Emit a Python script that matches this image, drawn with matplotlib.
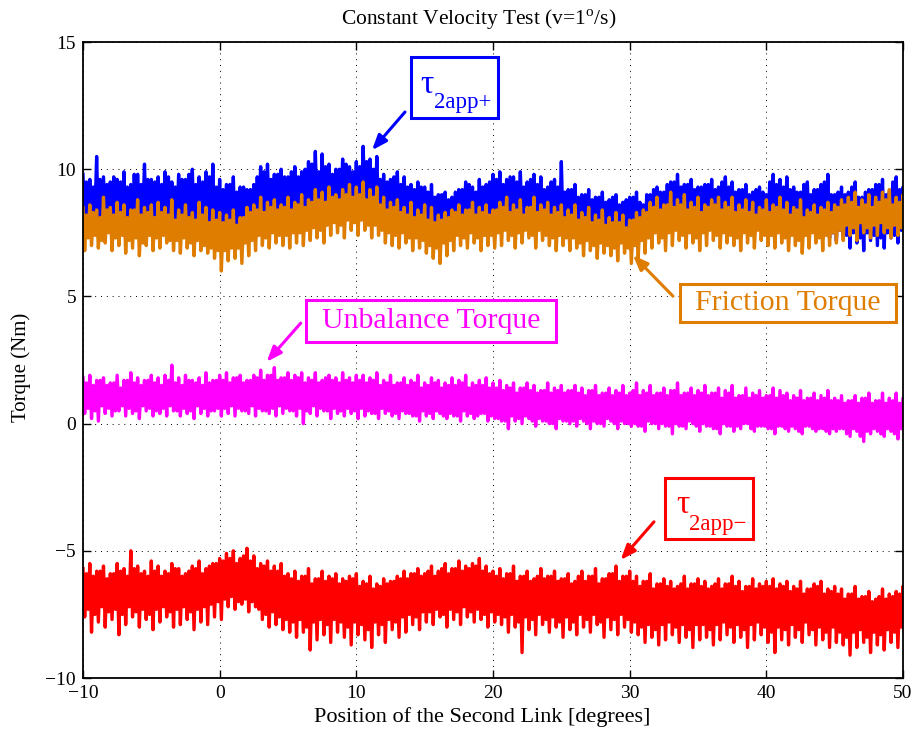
import numpy as np
import matplotlib
matplotlib.use("Agg")
import matplotlib.pyplot as plt
from matplotlib.patches import Rectangle

plt.rcParams['font.family'] = ['Liberation Serif', 'DejaVu Serif']
plt.rcParams['mathtext.fontset'] = 'custom'
plt.rcParams['mathtext.rm'] = 'Liberation Serif'

# sample positions (degrees): main samples every 0.5 deg, mid samples in between
position = np.arange(241) * 0.25 - 10

tau_plus_hi = [9.8, 9.6, 10.5, 9.7, 9.5, 9.6, 9.9, 9.4, 9.8, 10.2, 9.6,
               9.7, 9.9, 9.5, 9.8, 9.6, 10.0, 9.7, 9.9, 10.2, 9.6,
               9.4, 9.7, 9.3, 9.2, 9.4, 10.1, 10.2, 9.8, 10.0, 9.7,
               10.1, 9.9, 10.3, 10.7, 10.6, 10.2, 10.0, 10.4, 10.1, 10.3,
               10.9, 10.4, 10.5, 9.8, 9.6, 9.9, 9.7, 9.4, 9.5, 9.3,
               9.4, 9.0, 9.1, 8.9, 9.2, 9.5, 9.3, 9.6, 9.4, 9.8,
               9.9, 9.6, 9.7, 9.9, 9.5, 9.8, 9.7, 9.3, 9.6, 10.3,
               9.2, 9.4, 9.0, 9.2, 8.9, 9.1, 8.8, 9.0, 8.7, 8.9,
               9.1, 8.6, 9.0, 9.3, 9.1, 9.5, 9.8, 9.4, 9.6, 9.3,
               9.4, 9.6, 9.3, 9.7, 9.5, 9.2, 9.4, 9.1, 9.3, 9.0,
               9.8, 9.6, 9.7, 9.3, 9.1, 9.5, 9.2, 9.4, 9.8, 9.0,
               9.3, 9.1, 9.5, 8.9, 9.2, 9.4, 9.6, 9.1, 9.7, 9.3]
tau_plus_hi_mid = [9.5, 9.3, 9.6, 9.4, 9.7, 9.5, 9.3, 9.8, 9.4, 9.6,
                   9.5, 9.4, 9.7, 9.3, 9.6, 9.8, 9.4, 9.5, 9.7, 9.3,
                   9.2, 9.4, 9.1, 9.3, 9.2, 9.7, 9.9, 9.6, 9.8, 9.7,
                   9.9, 9.7, 10.0, 10.2, 9.9, 10.1, 9.8, 10.0, 10.2, 9.9,
                   10.1, 10.3, 10.0, 9.6, 9.5, 9.7, 9.4, 9.3, 9.2, 9.3,
                   9.1, 8.9, 9.0, 8.8, 9.1, 9.2, 9.4, 9.1, 9.3, 9.5,
                   9.6, 9.4, 9.7, 9.5, 9.3, 9.6, 9.4, 9.2, 9.5, 9.3,
                   9.1, 9.2, 8.9, 9.0, 8.8, 8.9, 8.7, 8.9, 8.6, 8.8,
                   8.9, 8.7, 9.0, 9.2, 9.1, 9.4, 9.5, 9.3, 9.4, 9.2,
                   9.3, 9.4, 9.2, 9.5, 9.3, 9.1, 9.2, 9.0, 9.2, 9.1,
                   9.5, 9.4, 9.3, 9.2, 9.1, 9.4, 9.0, 9.2, 9.5, 9.0,
                   9.1, 9.0, 9.3, 8.9, 9.1, 9.2, 9.4, 9.0, 9.5, 9.2]
tau_plus_lo = [7.8, 7.9, 7.6, 8.0, 7.7, 7.9, 7.8, 7.6, 8.0, 7.7, 7.9,
               7.8, 7.6, 7.9, 7.7, 7.8, 7.5, 7.9, 7.7, 7.6, 7.5,
               7.4, 7.3, 7.5, 7.6, 7.8, 7.7, 7.9, 7.8, 8.0, 7.9,
               8.1, 8.0, 8.2, 8.3, 8.1, 8.4, 8.2, 8.3, 8.5, 8.2,
               8.4, 8.3, 8.1, 8.0, 7.9, 7.8, 7.9, 7.7, 7.6, 7.5,
               7.4, 7.3, 7.5, 7.6, 7.7, 7.6, 7.8, 7.7, 7.9, 7.8,
               7.9, 8.0, 7.8, 7.9, 7.7, 7.8, 7.6, 7.7, 7.5, 7.6,
               7.5, 7.4, 7.6, 7.3, 7.5, 7.2, 7.4, 7.3, 7.1, 6.8,
               6.9, 7.3, 7.5, 7.6, 7.8, 7.7, 7.9, 7.8, 8.0, 7.9,
               7.8, 7.9, 7.7, 8.0, 7.8, 7.9, 7.7, 7.8, 7.6, 7.8,
               7.7, 7.8, 7.6, 7.7, 7.5, 7.6, 7.4, 7.5, 7.3, 7.2,
               7.4, 6.9, 7.1, 6.8, 7.2, 7.0, 6.9, 7.3, 7.1, 7.4]
tau_plus_lo_mid = [8.1, 8.2, 8.0, 8.3, 8.1, 8.2, 8.0, 8.3, 8.1, 8.2,
                   8.0, 8.2, 8.1, 8.0, 7.9, 8.1, 8.0, 7.9, 7.8, 7.7,
                   7.7, 7.8, 7.9, 8.0, 8.1, 8.2, 8.1, 8.3, 8.2, 8.4,
                   8.3, 8.5, 8.4, 8.6, 8.5, 8.6, 8.7, 8.6, 8.7, 8.5,
                   8.6, 8.5, 8.4, 8.3, 8.2, 8.1, 8.0, 7.9, 7.8, 7.7,
                   7.6, 7.7, 7.8, 7.9, 8.0, 7.9, 8.1, 8.0, 8.1, 8.0,
                   8.2, 8.1, 8.0, 8.1, 8.0, 7.9, 7.9, 7.8, 7.9, 7.8,
                   7.8, 7.7, 7.8, 7.6, 7.7, 7.5, 7.6, 7.5, 7.4, 7.3,
                   7.4, 7.6, 7.8, 7.9, 8.0, 8.0, 8.1, 8.1, 8.2, 8.1,
                   8.0, 8.1, 8.0, 8.2, 8.1, 8.0, 8.0, 7.9, 7.9, 8.0,
                   7.9, 8.0, 7.9, 7.8, 7.8, 7.7, 7.7, 7.6, 7.6, 7.5,
                   7.6, 7.4, 7.5, 7.3, 7.5, 7.4, 7.3, 7.5, 7.4, 7.6]

friction_hi = [8.5, 8.6, 8.4, 8.9, 8.5, 8.7, 8.6, 8.4, 8.8, 8.5, 8.6,
               8.7, 8.5, 8.8, 8.4, 8.6, 8.3, 8.7, 8.5, 8.4, 8.3,
               8.2, 8.4, 8.1, 8.5, 8.6, 8.9, 8.7, 8.8, 8.6, 8.9,
               8.7, 9.0, 8.8, 9.2, 9.1, 9.3, 9.0, 9.2, 9.4, 9.3,
               9.5, 9.2, 9.3, 8.9, 8.7, 8.8, 8.5, 8.7, 8.4, 8.6,
               8.5, 8.2, 8.3, 8.4, 8.6, 8.4, 8.7, 8.5, 8.6, 8.4,
               8.7, 8.9, 8.6, 8.8, 8.5, 8.9, 8.6, 8.7, 8.5, 8.6,
               8.4, 8.6, 8.3, 8.5, 8.2, 8.4, 8.1, 8.3, 8.2, 8.0,
               8.3, 8.4, 8.7, 8.9, 8.6, 9.1, 8.8, 9.0, 8.7, 8.9,
               8.6, 8.8, 8.9, 8.7, 8.9, 8.6, 8.8, 8.7, 8.5, 8.8,
               8.6, 8.9, 8.7, 8.5, 8.8, 8.4, 8.6, 8.5, 8.7, 8.6,
               8.8, 8.9, 9.1, 8.8, 9.0, 8.9, 9.1, 9.2, 8.9, 9.0]
friction_hi_mid = [8.2, 8.3, 8.1, 8.4, 8.2, 8.3, 8.1, 8.4, 8.2, 8.3,
                   8.1, 8.3, 8.2, 8.0, 8.2, 8.1, 8.0, 8.2, 7.9, 8.0,
                   7.9, 8.0, 7.8, 8.1, 8.3, 8.4, 8.3, 8.5, 8.4, 8.5,
                   8.4, 8.6, 8.5, 8.7, 8.8, 8.7, 8.9, 8.8, 9.0, 8.9,
                   9.0, 8.8, 8.9, 8.6, 8.4, 8.5, 8.3, 8.2, 8.1, 8.2,
                   8.0, 7.9, 8.0, 8.1, 8.3, 8.2, 8.4, 8.2, 8.3, 8.2,
                   8.4, 8.5, 8.3, 8.4, 8.2, 8.5, 8.3, 8.4, 8.2, 8.3,
                   8.1, 8.2, 8.0, 8.1, 7.9, 8.0, 7.8, 7.9, 7.9, 7.7,
                   8.0, 8.1, 8.3, 8.5, 8.4, 8.6, 8.5, 8.6, 8.4, 8.5,
                   8.3, 8.5, 8.6, 8.4, 8.5, 8.3, 8.4, 8.3, 8.2, 8.4,
                   8.3, 8.5, 8.4, 8.2, 8.4, 8.1, 8.3, 8.2, 8.4, 8.3,
                   8.5, 8.6, 8.7, 8.5, 8.6, 8.5, 8.7, 8.8, 8.6, 8.7]
friction_lo = [6.8, 7.0, 6.9, 7.1, 6.8, 7.0, 6.7, 6.9, 6.6, 7.0, 6.8,
               6.9, 7.1, 6.8, 6.7, 6.9, 6.6, 6.8, 6.7, 6.5, 6.0,
               6.4, 6.5, 6.3, 6.6, 6.8, 7.0, 6.9, 7.1, 7.0, 6.9,
               7.1, 7.0, 7.2, 7.3, 7.1, 7.4, 7.5, 7.3, 7.6, 7.4,
               7.6, 7.3, 7.4, 7.1, 7.0, 6.9, 7.1, 6.8, 6.9, 6.7,
               6.5, 6.3, 6.6, 6.8, 7.0, 6.9, 7.1, 6.8, 7.0, 6.9,
               7.0, 7.2, 6.9, 7.1, 7.3, 6.9, 7.2, 7.0, 6.8, 7.0,
               6.8, 6.9, 6.6, 6.8, 6.5, 6.7, 6.6, 6.4, 6.7, 6.3,
               6.5, 6.7, 6.9, 7.1, 6.8, 7.0, 7.2, 6.9, 7.1, 6.8,
               7.0, 7.2, 6.9, 7.1, 7.0, 6.8, 7.1, 6.9, 7.2, 7.0,
               6.9, 7.1, 6.8, 7.0, 6.7, 6.9, 7.1, 6.8, 7.0, 7.1,
               7.2, 7.4, 7.2, 7.5, 7.3, 7.4, 7.5, 7.3, 7.4, 7.3]
friction_lo_mid = [7.3, 7.4, 7.2, 7.5, 7.3, 7.4, 7.2, 7.3, 7.1, 7.4,
                   7.3, 7.4, 7.2, 7.2, 7.3, 7.1, 7.2, 7.0, 6.9, 6.8,
                   6.8, 6.9, 6.9, 7.1, 7.2, 7.4, 7.3, 7.5, 7.4, 7.4,
                   7.5, 7.5, 7.6, 7.7, 7.6, 7.8, 7.9, 7.8, 8.0, 7.9,
                   8.0, 7.8, 7.8, 7.6, 7.5, 7.4, 7.5, 7.3, 7.3, 7.2,
                   7.0, 6.9, 7.1, 7.2, 7.4, 7.3, 7.5, 7.3, 7.4, 7.4,
                   7.5, 7.6, 7.4, 7.5, 7.6, 7.4, 7.6, 7.4, 7.3, 7.4,
                   7.3, 7.3, 7.1, 7.2, 7.0, 7.1, 7.0, 6.9, 7.1, 6.9,
                   7.0, 7.2, 7.3, 7.5, 7.3, 7.5, 7.6, 7.4, 7.5, 7.3,
                   7.5, 7.6, 7.4, 7.5, 7.4, 7.3, 7.5, 7.4, 7.6, 7.4,
                   7.4, 7.5, 7.3, 7.4, 7.2, 7.4, 7.5, 7.3, 7.4, 7.5,
                   7.6, 7.8, 7.7, 7.9, 7.7, 7.8, 7.9, 7.7, 7.8, 7.7]

unbalance_hi = [1.8, 1.9, 1.7, 1.8, 1.6, 1.9, 1.7, 2.0, 1.8, 1.7, 1.9,
                1.8, 1.9, 2.3, 1.8, 1.9, 1.7, 1.8, 2.0, 1.7, 1.9,
                2.0, 1.8, 1.9, 1.7, 1.9, 2.1, 1.9, 2.2, 1.8, 2.0,
                1.9, 2.0, 1.8, 2.0, 1.7, 1.9, 1.8, 2.0, 1.8, 1.9,
                1.9, 1.8, 2.0, 1.7, 1.9, 1.6, 1.8, 1.7, 1.9, 1.6,
                1.8, 1.7, 1.6, 1.8, 1.7, 1.9, 1.6, 1.7, 1.8, 1.6,
                1.7, 1.5, 1.6, 1.4, 1.6, 1.5, 1.3, 1.6, 1.4, 1.5,
                1.3, 1.5, 1.4, 1.3, 1.5, 1.2, 1.4, 1.3, 1.5, 1.2,
                1.6, 1.3, 1.5, 1.2, 1.4, 1.3, 1.6, 1.2, 1.4, 1.3,
                1.5, 1.2, 1.4, 1.3, 1.5, 1.1, 1.4, 1.2, 1.3, 1.1,
                1.4, 1.3, 1.2, 1.1, 1.3, 1.0, 1.2, 1.1, 1.3, 1.0,
                1.1, 0.9, 1.1, 1.0, 1.2, 0.9, 1.2, 1.0, 1.2, 1.0]
unbalance_hi_mid = [1.6, 1.5, 1.7, 1.5, 1.6, 1.4, 1.7, 1.6, 1.5, 1.7,
                    1.6, 1.5, 1.7, 1.6, 1.5, 1.7, 1.6, 1.5, 1.6, 1.7,
                    1.7, 1.6, 1.8, 1.6, 1.7, 1.8, 1.7, 1.9, 1.7, 1.8,
                    1.7, 1.8, 1.6, 1.7, 1.6, 1.8, 1.7, 1.6, 1.7, 1.6,
                    1.7, 1.6, 1.7, 1.5, 1.6, 1.5, 1.6, 1.5, 1.6, 1.4,
                    1.5, 1.6, 1.4, 1.5, 1.5, 1.6, 1.4, 1.5, 1.5, 1.4,
                    1.4, 1.3, 1.4, 1.2, 1.4, 1.3, 1.2, 1.3, 1.2, 1.3,
                    1.2, 1.3, 1.2, 1.1, 1.3, 1.1, 1.2, 1.1, 1.2, 1.1,
                    1.3, 1.1, 1.2, 1.1, 1.2, 1.1, 1.3, 1.1, 1.2, 1.1,
                    1.2, 1.1, 1.2, 1.0, 1.2, 1.0, 1.1, 1.0, 1.1, 1.0,
                    1.1, 1.0, 1.1, 0.9, 1.0, 0.9, 1.0, 0.9, 1.0, 0.9,
                    0.9, 0.8, 0.9, 0.8, 1.0, 0.8, 0.9, 0.8, 0.9, 0.8]
unbalance_lo = [0.4, 0.2, 0.1, 0.4, 0.3, 0.5, 0.3, 0.4, 0.2, 0.5, 0.3,
                0.4, 0.3, 0.5, 0.3, 0.4, 0.2, 0.4, 0.3, 0.5, 0.3,
                0.4, 0.3, 0.5, 0.4, 0.3, 0.5, 0.4, 0.3, 0.4, 0.5,
                0.3, 0.0, 0.4, 0.3, 0.5, 0.2, 0.4, 0.3, 0.4, 0.2,
                0.3, 0.4, 0.2, 0.4, 0.3, 0.2, 0.4, 0.3, 0.1, 0.3,
                0.2, 0.4, 0.2, 0.3, 0.1, 0.3, 0.2, 0.4, 0.1, 0.2,
                0.1, -0.2, 0.1, 0.0, 0.2, -0.1, 0.1, 0.0, -0.2, 0.1,
                0.0, -0.1, 0.1, -0.2, 0.0, -0.1, 0.1, -0.2, 0.0, -0.1,
                -0.1, -0.3, 0.0, -0.2, -0.1, -0.4, -0.1, -0.2, 0.0, -0.3,
                -0.1, -0.2, -0.4, -0.1, -0.3, -0.2, 0.0, -0.3, -0.1, -0.2,
                -0.4, -0.1, -0.3, -0.2, -0.4, -0.1, -0.3, -0.2, -0.4, -0.3,
                -0.2, -0.5, -0.3, -0.7, -0.4, -0.3, -0.5, -0.3, -0.6, -0.2]
unbalance_lo_mid = [0.6, 0.5, 0.7, 0.6, 0.5, 0.7, 0.6, 0.5, 0.7, 0.6,
                    0.5, 0.6, 0.7, 0.5, 0.6, 0.5, 0.7, 0.6, 0.5, 0.6,
                    0.6, 0.7, 0.6, 0.5, 0.7, 0.6, 0.5, 0.6, 0.7, 0.6,
                    0.5, 0.6, 0.5, 0.7, 0.6, 0.5, 0.6, 0.5, 0.6, 0.5,
                    0.6, 0.5, 0.4, 0.6, 0.5, 0.4, 0.5, 0.4, 0.3, 0.5,
                    0.4, 0.5, 0.3, 0.4, 0.3, 0.5, 0.4, 0.3, 0.4, 0.3,
                    0.2, 0.1, 0.3, 0.2, 0.3, 0.1, 0.2, 0.1, 0.0, 0.2,
                    0.1, 0.1, 0.2, 0.0, 0.1, 0.0, 0.2, 0.0, 0.1, 0.0,
                    0.0, -0.1, 0.1, 0.0, 0.0, -0.1, 0.0, -0.1, 0.1, -0.1,
                    0.0, -0.1, -0.2, 0.0, -0.1, -0.1, 0.0, -0.2, -0.1, -0.1,
                    -0.2, -0.1, -0.2, -0.1, -0.3, -0.1, -0.2, -0.2, -0.3, -0.2,
                    -0.2, -0.4, -0.2, -0.5, -0.3, -0.2, -0.4, -0.2, -0.4, -0.2]

tau_minus_hi = [-5.7, -5.5, -5.8, -5.6, -5.9, -5.5, -5.7, -5.0, -5.6, -5.8, -5.4,
                -5.6, -5.8, -5.5, -5.7, -5.9, -5.6, -5.4, -5.7, -5.5, -5.3,
                -5.1, -5.0, -5.3, -4.9, -5.2, -5.5, -5.4, -5.6, -5.5, -5.9,
                -5.8, -6.0, -5.7, -6.1, -5.8, -6.0, -5.9, -6.1, -6.0, -5.9,
                -6.2, -6.0, -6.3, -6.1, -6.2, -6.0, -5.8, -5.9, -5.7, -5.9,
                -5.6, -5.8, -5.5, -5.7, -5.4, -5.6, -5.5, -5.3, -5.6, -5.8,
                -5.7, -5.9, -5.6, -6.0, -5.8, -6.1, -5.7, -6.0, -5.8, -6.1,
                -5.9, -6.2, -5.8, -6.0, -5.7, -6.1, -5.9, -5.6, -6.0, -5.8,
                -6.0, -6.2, -5.9, -6.3, -6.1, -6.2, -6.4, -6.0, -6.3, -6.1,
                -6.2, -6.4, -6.1, -6.3, -6.0, -6.2, -6.4, -6.1, -6.3, -6.2,
                -6.1, -6.3, -6.2, -6.4, -6.2, -6.5, -6.3, -6.2, -6.5, -6.4,
                -6.5, -6.7, -6.4, -6.8, -6.6, -6.9, -6.5, -6.7, -6.6, -6.4]
tau_minus_hi_mid = [-5.9, -6.0, -5.8, -6.1, -5.9, -5.8, -6.0, -5.7, -5.9, -6.0,
                    -5.8, -6.0, -5.9, -5.7, -6.0, -5.8, -5.7, -5.9, -5.6, -5.5,
                    -5.4, -5.3, -5.5, -5.2, -5.4, -5.7, -5.6, -5.8, -5.8, -6.0,
                    -6.1, -6.2, -6.0, -6.3, -6.1, -6.2, -6.1, -6.3, -6.2, -6.1,
                    -6.4, -6.3, -6.5, -6.4, -6.3, -6.2, -6.1, -6.1, -5.9, -6.0,
                    -5.8, -6.0, -5.7, -5.9, -5.7, -5.8, -5.7, -5.6, -5.8, -5.9,
                    -6.0, -6.1, -5.9, -6.2, -6.0, -6.2, -6.0, -6.1, -6.0, -6.2,
                    -6.1, -6.3, -6.0, -6.2, -6.0, -6.3, -6.1, -5.9, -6.2, -6.0,
                    -6.2, -6.4, -6.2, -6.5, -6.3, -6.4, -6.5, -6.3, -6.5, -6.3,
                    -6.4, -6.5, -6.3, -6.5, -6.3, -6.4, -6.6, -6.4, -6.5, -6.4,
                    -6.4, -6.5, -6.4, -6.6, -6.5, -6.7, -6.5, -6.4, -6.7, -6.6,
                    -6.7, -6.9, -6.7, -6.9, -6.8, -7.0, -6.8, -6.9, -6.8, -6.7]
tau_minus_lo = [-7.6, -8.2, -7.8, -8.0, -7.7, -8.3, -7.9, -7.6, -8.0, -7.7, -8.1,
                -7.8, -7.6, -8.0, -7.9, -7.7, -8.1, -7.8, -7.9, -7.6, -7.7,
                -7.2, -7.3, -7.1, -7.4, -7.2, -7.7, -8.0, -7.9, -8.1, -8.2,
                -8.4, -8.2, -8.9, -8.5, -8.3, -8.6, -8.2, -8.4, -8.7, -8.3,
                -8.5, -8.8, -8.3, -8.6, -8.1, -8.4, -8.2, -7.9, -8.1, -7.8,
                -7.9, -7.6, -8.0, -7.7, -7.9, -7.6, -7.8, -7.7, -8.0, -7.8,
                -7.9, -8.2, -8.0, -9.0, -8.1, -8.3, -7.9, -8.2, -8.0, -8.4,
                -8.1, -8.3, -8.0, -8.2, -7.9, -8.4, -8.1, -8.3, -8.0, -8.2,
                -8.3, -8.6, -8.4, -8.7, -8.5, -8.3, -8.6, -8.4, -8.8, -8.5,
                -8.4, -8.7, -8.5, -8.3, -8.6, -8.4, -8.8, -8.5, -8.3, -8.6,
                -9.0, -8.5, -8.7, -8.4, -8.6, -8.3, -8.7, -8.5, -8.8, -8.6,
                -8.7, -9.1, -8.8, -8.6, -9.0, -8.7, -8.9, -8.6, -8.8, -8.5]
tau_minus_lo_mid = [-7.3, -7.5, -7.2, -7.4, -7.3, -7.5, -7.2, -7.4, -7.3, -7.5,
                    -7.3, -7.2, -7.4, -7.3, -7.2, -7.4, -7.3, -7.2, -7.1, -7.0,
                    -6.9, -6.8, -7.0, -6.9, -7.0, -7.3, -7.5, -7.4, -7.6, -7.7,
                    -7.8, -7.7, -8.0, -7.8, -7.7, -7.9, -7.7, -7.8, -8.0, -7.8,
                    -7.9, -8.1, -7.8, -7.9, -7.7, -7.8, -7.6, -7.5, -7.6, -7.4,
                    -7.4, -7.3, -7.5, -7.3, -7.4, -7.2, -7.4, -7.3, -7.5, -7.4,
                    -7.5, -7.6, -7.5, -7.8, -7.6, -7.7, -7.5, -7.7, -7.6, -7.8,
                    -7.6, -7.8, -7.5, -7.7, -7.5, -7.8, -7.6, -7.7, -7.5, -7.7,
                    -7.8, -8.0, -7.9, -8.1, -7.9, -7.8, -8.0, -7.9, -8.1, -7.9,
                    -7.9, -8.1, -7.9, -7.8, -8.0, -7.9, -8.1, -7.9, -7.8, -8.0,
                    -8.2, -8.0, -8.1, -7.9, -8.1, -7.8, -8.1, -8.0, -8.2, -8.0,
                    -8.2, -8.4, -8.2, -8.1, -8.4, -8.2, -8.3, -8.1, -8.2, -8.0]

x_ticks = [-10, 0, 10, 20, 30, 40, 50]
y_ticks = [-10, -5, 0, 5, 10, 15]

C_BLUE = '#0000ff'
C_ORANGE = '#de7d00'
C_MAGENTA = '#ff00ff'
C_RED = '#ff0000'


def merge(main, mid):
    full = np.empty(len(position))
    full[0::2] = main
    full[1::2] = mid
    return full


def zigzag(hi, lo):
    xs = np.empty(2 * len(position))
    ys = np.empty(2 * len(position))
    xs[0::2] = position
    xs[1::2] = position + 0.125
    ys[0::2] = hi
    ys[1::2] = lo
    return xs, ys


fig = plt.figure(figsize=(9.19, 7.38), dpi=100)
ax = fig.add_axes([0.0903, 0.0813, 0.8923, 0.8617])

series = [
    (tau_plus_hi, tau_plus_hi_mid, tau_plus_lo, tau_plus_lo_mid, C_BLUE),
    (friction_hi, friction_hi_mid, friction_lo, friction_lo_mid, C_ORANGE),
    (unbalance_hi, unbalance_hi_mid, unbalance_lo, unbalance_lo_mid, C_MAGENTA),
    (tau_minus_hi, tau_minus_hi_mid, tau_minus_lo, tau_minus_lo_mid, C_RED),
]
for hi, hi_m, lo, lo_m, c in series:
    xs, ys = zigzag(merge(hi, hi_m), merge(lo, lo_m))
    ax.plot(xs, ys, color=c, linewidth=2.4)

ax.set_xlim(-10, 50)
ax.set_ylim(-10, 15)
ax.set_xticks(x_ticks)
ax.set_yticks(y_ticks)
ax.grid(True, color='black', linestyle=(0, (1, 5)), linewidth=0.7)
ax.tick_params(direction='in', top=True, right=True, length=6, width=1.0,
               labelsize=14, pad=5)
for s in ax.spines.values():
    s.set_linewidth(1.3)

ax.set_title('Constant Velocity Test (v=1$^{\\mathrm{o}}$/s)', fontsize=15.5,
             x=0.482, pad=12)
ax.set_xlabel('Position of the Second Link [degrees]', fontsize=16, labelpad=0)
ax.xaxis.set_label_coords(0.487, -0.045)
ax.set_ylabel('Torque (Nm)', fontsize=15, labelpad=2)
ax.yaxis.set_label_coords(-0.064, 0.489)


def box(x0, x1, y0, y1, c):
    ax.add_patch(Rectangle((x0, y0), x1 - x0, y1 - y0, fill=True, facecolor='white',
                           edgecolor=c, linewidth=2.2, zorder=5))


def arrow(tail, head, c):
    ax.annotate('', xy=head, xytext=tail,
                arrowprops=dict(arrowstyle='-|>,head_length=0.9,head_width=0.35',
                                color=c, lw=2.2, shrinkA=0, shrinkB=0), zorder=6)


# tau 2app+
box(13.98, 20.37, 12.01, 14.41, C_BLUE)
ax.text(14.66, 13.0, '\u03c4', color=C_BLUE, fontsize=24, zorder=6)
ax.text(15.65, 12.40, '2app+', color=C_BLUE, fontsize=16.5, zorder=6)
arrow((13.56, 12.25), (11.15, 10.75), C_BLUE)

# Friction Torque
box(33.68, 49.49, 3.99, 5.49, C_ORANGE)
ax.text((33.68 + 49.49) / 2, 4.74, 'Friction Torque', color=C_ORANGE, fontsize=21.5,
        ha='center', va='center', zorder=6)
arrow((33.17, 5.01), (30.24, 6.62), C_ORANGE)

# Unbalance Torque
box(6.32, 24.61, 3.21, 4.86, C_MAGENTA)
ax.text((6.32 + 24.61) / 2, 4.03, 'Unbalance Torque', color=C_MAGENTA, fontsize=21.5,
        ha='center', va='center', zorder=6)
arrow((5.93, 3.95), (3.44, 2.43), C_MAGENTA)

# tau 2app-
box(32.58, 39.02, -4.54, -2.14, C_RED)
ax.text(33.44, -3.51, '\u03c4', color=C_RED, fontsize=24, zorder=6)
ax.text(34.35, -4.18, '2app\u2212', color=C_RED, fontsize=16.5, zorder=6)
arrow((31.78, -3.86), (29.34, -5.36), C_RED)

fig.savefig('out.png', dpi=100)
